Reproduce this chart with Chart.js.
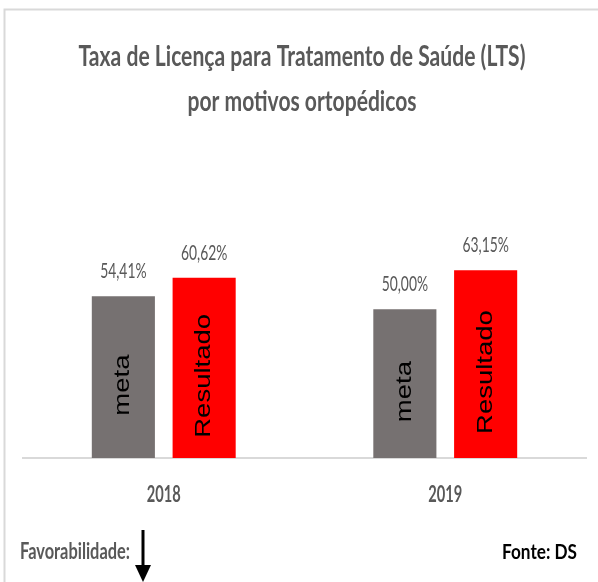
<!DOCTYPE html>
<html>
<head>
<meta charset="utf-8">
<script src="https://cdn.jsdelivr.net/npm/chart.js@4/dist/chart.umd.min.js"></script>
<style>
  html, body { margin: 0; padding: 0; background: #fff; }
  canvas { display: block; }
</style>
</head>
<body>
<canvas id="grafico" width="598" height="582"></canvas>
<script>
// Dados do gráfico
const anos = ['2018', '2019'];
const meta = [54.41, 50.00];
const resultado = [60.62, 63.15];
const nomesSeries = ['meta', 'Resultado'];
const tituloLinhas = ['Taxa de Licença para Tratamento de Saúde (LTS)', 'por motivos ortopédicos'];

// Formata 54.41 -> "54,41%"
function formatarPct(v) {
    return v.toFixed(2).replace('.', ',') + '%';
}

// Escreve texto comprimido na horizontal (imita a fonte estreita do original)
function textoLargura(ctx, texto, x, y, fonte, cor, largura, alinhamento) {
    ctx.save();
    ctx.font = fonte;
    ctx.fillStyle = cor;
    ctx.textBaseline = 'alphabetic';
    const w = ctx.measureText(texto).width;
    const sx = largura / w;
    ctx.translate(x, y);
    ctx.scale(sx, 1);
    ctx.textAlign = alinhamento || 'center';
    ctx.fillText(texto, 0, 0);
    ctx.restore();
}

function textoEscala(ctx, texto, x, y, fonte, cor, sx) {
    ctx.save();
    ctx.font = fonte;
    ctx.fillStyle = cor;
    ctx.textAlign = 'center';
    ctx.textBaseline = 'alphabetic';
    ctx.translate(x, y);
    ctx.scale(sx, 1);
    ctx.fillText(texto, 0, 0);
    ctx.restore();
}

const fundoBranco = {
    id: 'fundoBranco',
    beforeDraw(chart) {
        const ctx = chart.ctx;
        ctx.save();
        ctx.fillStyle = '#fff';
        ctx.fillRect(0, 0, chart.width, chart.height);
        ctx.restore();
    }
};

const rotulos = {
    id: 'rotulos',
    afterDatasetsDraw(chart) {
        const ctx = chart.ctx;
        chart.data.datasets.forEach((ds, i) => {
            const m = chart.getDatasetMeta(i);
            m.data.forEach((bar, j) => {
                // valor acima da barra
                textoEscala(ctx, formatarPct(ds.data[j]), bar.x, bar.y - 18,
                    '21px Lato', '#595959', 0.66);
                // nome da série dentro da barra, girado
                ctx.save();
                ctx.translate(bar.x, (bar.y + bar.base) / 2 + 8);
                ctx.rotate(-Math.PI / 2);
                ctx.scale(1.25, 1);
                ctx.font = '22px "Liberation Sans", Arial, sans-serif';
                ctx.fillStyle = '#000';
                ctx.textAlign = 'center';
                ctx.textBaseline = 'middle';
                ctx.fillText(ds.label, 0, 0);
                ctx.restore();
            });
        });
    },
    afterDraw(chart) {
        const ctx = chart.ctx;
        // rótulos do eixo x, na posição dos ticks da escala
        const escalaX = chart.scales.x;
        escalaX.getLabels().forEach((txt, i) => {
            textoLargura(ctx, txt, escalaX.getPixelForTick(i), 502, 'bold 22px Lato', '#595959', 34);
        });
        // título
        textoLargura(ctx, tituloLinhas[0], 302, 66, 'bold 29px Lato', '#595959', 447);
        textoLargura(ctx, tituloLinhas[1], 302, 111, 'bold 29px Lato', '#595959', 229);
        // rodapé
        textoLargura(ctx, 'Favorabilidade:', 20, 559, 'bold 22px Lato', '#595959', 110, 'left');
        textoLargura(ctx, 'Fonte: DS', 577, 559, 'bold 20px Lato', '#000', 75, 'right');
        // seta
        ctx.save();
        ctx.strokeStyle = '#000';
        ctx.fillStyle = '#000';
        ctx.lineWidth = 3;
        ctx.beginPath();
        ctx.moveTo(143, 530);
        ctx.lineTo(143, 568);
        ctx.stroke();
        ctx.beginPath();
        ctx.moveTo(135, 565);
        ctx.lineTo(151, 565);
        ctx.lineTo(143, 582);
        ctx.closePath();
        ctx.fill();
        // moldura
        ctx.strokeStyle = '#d9d9d9';
        ctx.lineWidth = 2;
        ctx.beginPath();
        ctx.moveTo(4.5, 582);
        ctx.lineTo(4.5, 9.5);
        ctx.lineTo(598, 9.5);
        ctx.stroke();
        ctx.restore();
    }
};

new Chart(document.getElementById('grafico').getContext('2d'), {
    type: 'bar',
    data: {
        labels: anos,
        datasets: [{
            label: nomesSeries[0],
            data: meta,
            backgroundColor: '#767171',
            categoryPercentage: 0.574,
            barPercentage: 0.781
        }, {
            label: nomesSeries[1],
            data: resultado,
            backgroundColor: '#ff0000',
            categoryPercentage: 0.574,
            barPercentage: 0.781
        }]
    },
    options: {
        responsive: false,
        animation: false,
        devicePixelRatio: 1,
        layout: { padding: { top: 220, left: 23, right: 12, bottom: 0 } },
        plugins: {
            legend: { display: false },
            tooltip: { enabled: false }
        },
        scales: {
            x: {
                grid: { display: false, drawTicks: false },
                border: { display: true, color: '#d9d9d9', width: 2 },
                ticks: { display: false },
                afterFit(scale) { scale.height = 124; }
            },
            y: { display: false, min: 0, max: 80 }
        }
    },
    plugins: [fundoBranco, rotulos]
});
</script>
</body>
</html>
